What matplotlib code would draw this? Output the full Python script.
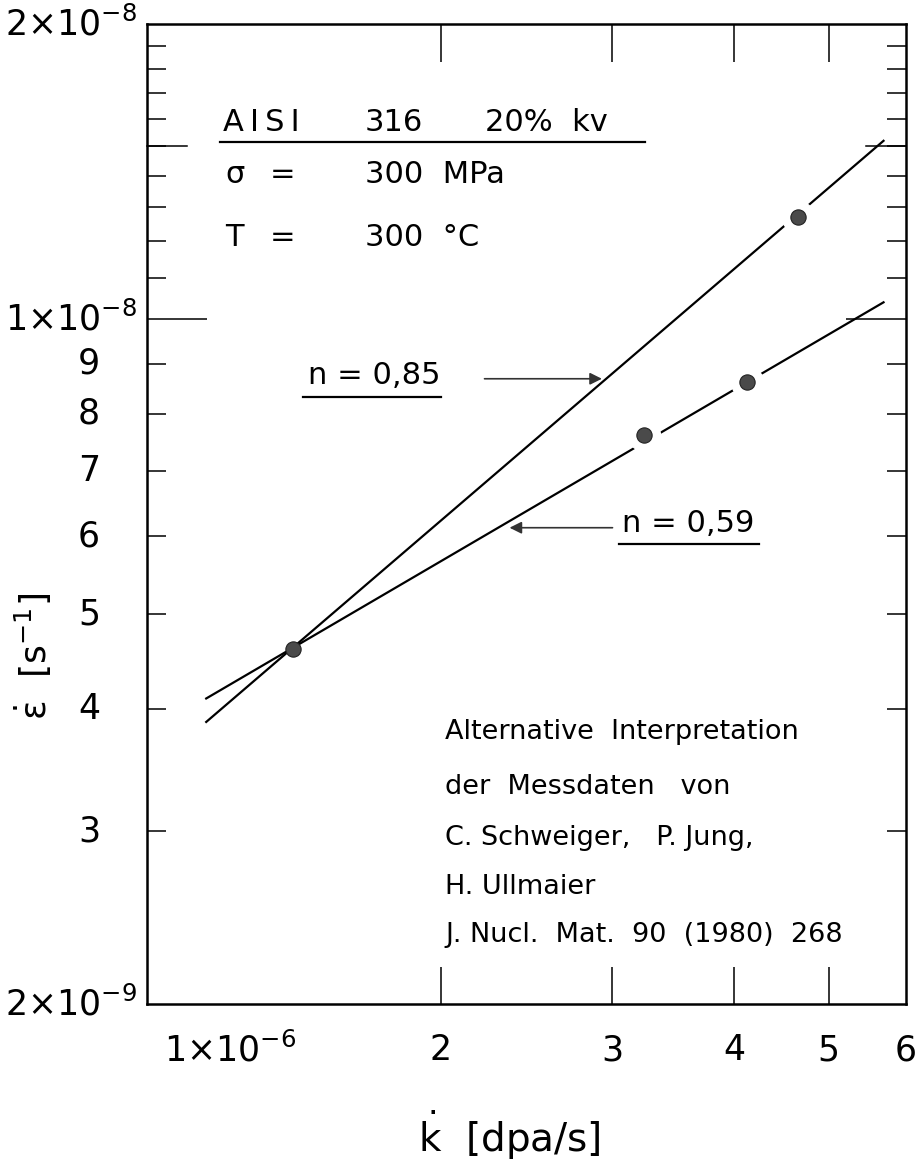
import matplotlib
matplotlib.use("Agg")
import matplotlib.pyplot as plt
from matplotlib.ticker import FixedLocator, NullLocator

plt.rcParams['font.family'] = ['DejaVu Sans']
plt.rcParams['mathtext.default'] = 'regular'

# measured points (irradiation creep)
k_rate = [1.41e-6, 3.23e-6, 4.12e-6, 4.65e-6]      # dpa/s
eps_rate = [4.61e-9, 7.61e-9, 8.62e-9, 1.27e-8]    # 1/s

# straight lines drawn through the points (end points)
line_085_x = [1.15e-6, 5.69e-6]
line_085_y = [3.88e-9, 1.52e-8]
line_059_x = [1.15e-6, 5.69e-6]
line_059_y = [4.10e-9, 1.04e-8]

# axis ticks
x_ticks = [2e-6, 3e-6, 4e-6, 5e-6]
x_label_pos = [1e-6, 2e-6, 3e-6, 4e-6, 5e-6, 6e-6]
x_label_txt = [r'$1{\times}10^{-6}$', '2', '3', '4', '5', '6']
y_minor = [3e-9, 4e-9, 5e-9, 6e-9, 7e-9, 8e-9, 9e-9,
           1.1e-8, 1.2e-8, 1.3e-8, 1.4e-8, 1.5e-8, 1.6e-8, 1.7e-8, 1.8e-8, 1.9e-8]
y_label_pos = [2e-9, 3e-9, 4e-9, 5e-9, 6e-9, 7e-9, 8e-9, 9e-9, 1e-8, 2e-8]
y_label_txt = [r'$2{\times}10^{-9}$', '3', '4', '5', '6', '7', '8', '9',
               r'$1{\times}10^{-8}$', r'$2{\times}10^{-8}$']

fig = plt.figure(figsize=(9.16, 11.69), dpi=100)
ax = fig.add_axes([147/916, 165/1169, 759/916, 980/1169])
ax.set_xscale('log')
ax.set_yscale('log')
ax.set_xlim(1e-6, 6e-6)
ax.set_ylim(2e-9, 2e-8)

for s in ax.spines.values():
    s.set_linewidth(1.8)

# ticks inside on all four sides
ax.xaxis.set_major_locator(FixedLocator(x_ticks))
ax.xaxis.set_minor_locator(NullLocator())
ax.tick_params(axis='x', which='major', direction='in', length=27, width=1.1,
               top=True, bottom=True, labelbottom=False)
ax.yaxis.set_major_locator(FixedLocator([1e-8]))
ax.yaxis.set_minor_locator(FixedLocator(y_minor))
ax.tick_params(axis='y', which='major', direction='in', length=43, width=1.1,
               left=True, right=True, labelleft=False)
ax.tick_params(axis='y', which='minor', direction='in', length=14, width=1.1,
               left=True, right=True, labelleft=False)
# slightly longer tick at 1.5e-8
ytr = ax.get_yaxis_transform()
ax.plot([0, 0.053], [1.5e-8, 1.5e-8], color='black', lw=1.1, transform=ytr, clip_on=False)
ax.plot([0.947, 1], [1.5e-8, 1.5e-8], color='black', lw=1.1, transform=ytr, clip_on=False)

# tick labels
for v, t in zip(y_label_pos, y_label_txt):
    xpos = -0.013 if '10' in t else -0.062
    ax.text(xpos, v, t, transform=ytr, ha='right', va='center', fontsize=25)
xtr = ax.get_xaxis_transform()
for v, t in zip(x_label_pos, x_label_txt):
    if v == x_label_pos[0]:
        ax.text(0.022, -0.047, t, transform=ax.transAxes, ha='left', va='center', fontsize=25)
    else:
        ax.text(v, -0.047, t, transform=xtr, ha='center', va='center', fontsize=25)

# lines and points
ax.plot(line_085_x, line_085_y, color='black', lw=1.6, zorder=2)
ax.plot(line_059_x, line_059_y, color='black', lw=1.6, zorder=2)
ax.plot(k_rate[1:], eps_rate[1:], 'o', color='white', ms=23, zorder=3)
ax.plot(k_rate, eps_rate, 'o', color='#4a4a4a', ms=11, mec='#222222', mew=0.8, zorder=4)

# header block
ta = ax.transAxes
ax.text(0.100, 0.899, 'A\u2009I\u2009S\u2009I', transform=ta, fontsize=22, va='center')
ax.text(0.287, 0.899, '316', transform=ta, fontsize=22, va='center')
ax.text(0.445, 0.899, '20%  kv', transform=ta, fontsize=22, va='center')
ax.plot([0.096, 0.656], [0.880, 0.880], color='black', lw=1.6, transform=ta)
ax.text(0.103, 0.846, 'σ', transform=ta, fontsize=22, va='center')
ax.text(0.178, 0.846, '=', transform=ta, fontsize=22, va='center', ha='center')
ax.text(0.287, 0.846, '300  MPa', transform=ta, fontsize=22, va='center')
ax.text(0.103, 0.782, 'T', transform=ta, fontsize=22, va='center')
ax.text(0.178, 0.782, '=', transform=ta, fontsize=22, va='center', ha='center')
ax.text(0.287, 0.782, '300  °C', transform=ta, fontsize=22, va='center')

# slope labels with arrows
ax.text(0.212, 0.641, 'n = 0,85', transform=ta, fontsize=22, va='center')
ax.plot([0.206, 0.387], [0.619, 0.619], color='black', lw=1.6, transform=ta)
ax.annotate('', xy=(0.603, 0.638), xytext=(0.441, 0.638), xycoords=ta, textcoords=ta,
            arrowprops=dict(arrowstyle='-|>', lw=1.2, color='#333333', mutation_scale=18))
ax.text(0.626, 0.490, 'n = 0,59', transform=ta, fontsize=22, va='center')
ax.plot([0.622, 0.806], [0.469, 0.469], color='black', lw=1.6, transform=ta)
ax.annotate('', xy=(0.474, 0.486), xytext=(0.617, 0.486), xycoords=ta, textcoords=ta,
            arrowprops=dict(arrowstyle='-|>', lw=1.2, color='#333333', mutation_scale=18))

# source note
note = ['Alternative  Interpretation',
        'der  Messdaten   von',
        'C. Schweiger,   P. Jung,',
        'H. Ullmaier',
        'J. Nucl.  Mat.  90  (1980)  268']
note_y = [0.278, 0.221, 0.169, 0.119, 0.070]
for t, yy in zip(note, note_y):
    ax.text(0.393, yy, t, transform=ta, fontsize=19.5, va='center')

# axis titles
ax.text(0.478, -0.134, r'$\dot{k}$  [dpa/s]', transform=ta, fontsize=28,
        ha='center', va='center')
ax.text(-0.150, 0.355, r'$\dot{\epsilon}$  [s$^{-1}$]', transform=ta, fontsize=26,
        ha='center', va='center', rotation=90)

fig.savefig('out.png', dpi=100)
